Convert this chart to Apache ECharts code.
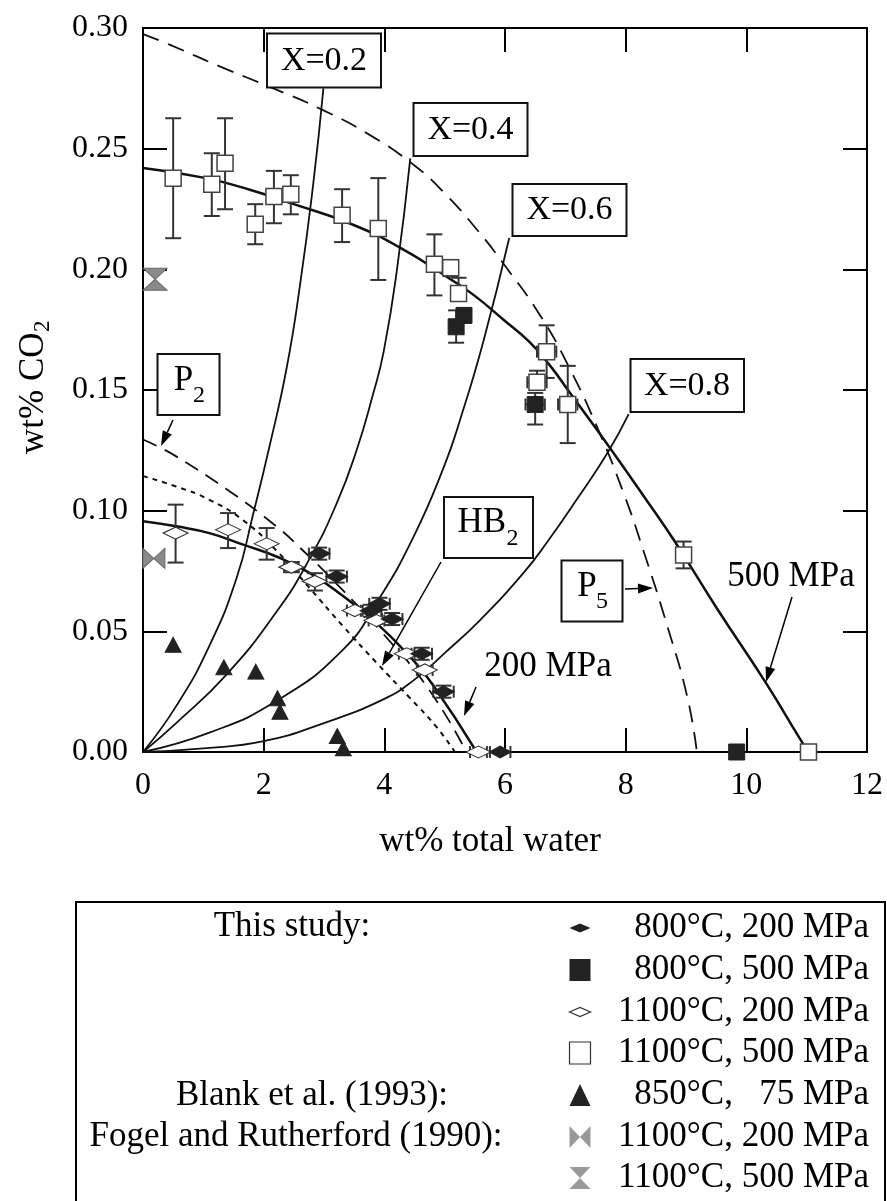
<!DOCTYPE html>
<html><head><meta charset="utf-8">
<script src="https://cdn.jsdelivr.net/npm/echarts@6/dist/echarts.min.js"></script>
<style>html,body{margin:0;padding:0;background:#fff}#c{width:887px;height:1201px}</style>
</head><body><div id="c"></div>
<script>
// ---------------- data ----------------
const xTickLabels = ['0','2','4','6','8','10','12'];
const yTickLabels = ['0.00','0.05','0.10','0.15','0.20','0.25','0.30'];

// model curves (x = wt% total water, y = wt% CO2)
const curve500MPa = [[0,0.242],[1,0.238],[1.77,0.233],[2.5,0.227],[3.43,0.219],[4.26,0.209],[5.09,0.196],[5.5,0.189],[5.98,0.179],[6.4,0.170],[6.75,0.160],[7.1,0.148],[7.74,0.126],[8.3,0.106],[8.82,0.087],[9.5,0.060],[10.34,0.028],[10.9,0.005],[11.03,0]];
const curve200MPa = [[0,0.0956],[0.55,0.0935],[1.1,0.0907],[1.66,0.0859],[2.21,0.081],[2.76,0.0742],[3.32,0.0645],[3.87,0.0534],[4.42,0.0396],[4.8,0.028],[5.53,0]];
const curveP5 = [[0,0.2975],[0.45,0.293],[1.28,0.284],[2.16,0.275],[2.94,0.2665],[3.77,0.2555],[4.5,0.243],[5.0,0.2315],[5.55,0.216],[5.97,0.2025],[6.58,0.181],[7.03,0.161],[7.52,0.135],[7.97,0.107],[8.3,0.083],[8.68,0.053],[9.02,0.023],[9.18,0]];
const curveP2 = [[0,0.1295],[0.28,0.1262],[0.55,0.1225],[1.38,0.109],[2.21,0.0935],[2.65,0.0835],[3.1,0.0725],[3.98,0.049],[4.75,0.0255],[5.36,0]];
const curveHB2 = [[0,0.1143],[0.55,0.110],[1.1,0.1045],[1.66,0.096],[2.21,0.0835],[2.76,0.068],[3.32,0.052],[3.87,0.037],[4.42,0.0225],[4.86,0.0105],[5.17,0]];
const isoX02 = [[0,0],[0.55,0.019],[1.1,0.044],[1.55,0.072],[1.82,0.098],[2.1,0.127],[2.38,0.159],[2.6,0.193],[2.82,0.235],[2.99,0.275]];
const isoX04 = [[0,0],[0.55,0.012],[1.38,0.032],[2.21,0.058],[2.76,0.080],[3.21,0.103],[3.54,0.125],[3.81,0.148],[3.99,0.166],[4.21,0.200],[4.43,0.246]];
const isoX06 = [[0,0],[1.1,0.008],[2.2,0.021],[3.3,0.042],[3.9,0.063],[4.5,0.090],[5.0,0.119],[5.26,0.138],[5.64,0.170],[6.07,0.213]];
const isoX08 = [[0,0],[1,0.0015],[2,0.0045],[3,0.012],[4,0.022],[4.5,0.030],[5,0.041],[5.6,0.055],[6.3,0.074],[6.7,0.087],[7.2,0.105],[7.7,0.124],[8.05,0.140]];

// measurements: [x, y, yLow, yHigh, xLow, xHigh]  (null = no error bar)
const open1100C500 = [
 [0.50,0.2377,0.2129,0.2626,null,null],
 [1.14,0.2353,0.2221,0.2481,null,null],
 [1.36,0.2440,0.2249,0.2626,null,null],
 [1.86,0.2187,0.2104,0.2270,null,null],
 [2.17,0.2302,0.2191,0.2408,null,null],
 [2.45,0.2311,0.2228,0.2390,null,null],
 [3.30,0.2224,0.2113,0.2332,null,null],
 [3.90,0.2169,0.1956,0.2378,null,null],
 [4.83,0.2021,0.1892,0.2145,null,null],
 [5.10,0.2007,0.1972,0.2039,null,null],
 [5.23,0.1900,0.1870,0.1965,null,null],
 [6.53,0.1532,0.1500,0.1580,6.37,6.69],
 [6.69,0.1659,0.1550,0.1768,6.53,6.85],
 [7.04,0.1440,0.1280,0.1600,6.88,7.20],
 [8.96,0.0816,0.0761,0.0872,null,null],
 [11.03,0,null,null,null,null]
];
const filled800C500 = [
 [5.32,0.1809,null,null,null,null],
 [5.19,0.1762,0.1696,0.1830,null,null],
 [6.50,0.1440,0.1357,0.1488,6.34,6.66],
 [9.84,0,null,null,null,null]
];
const filled800C200 = [
 [2.92,0.0822,0.0797,0.0847,2.75,3.09],
 [3.21,0.0727,0.0702,0.0752,3.04,3.38],
 [3.92,0.0614,0.0589,0.0639,3.75,4.09],
 [3.78,0.0585,0.0560,0.0610,3.61,3.95],
 [4.13,0.0551,0.0526,0.0576,3.96,4.30],
 [4.62,0.0407,0.0382,0.0432,4.45,4.79],
 [4.98,0.0250,0.0225,0.0275,4.81,5.15],
 [5.92,0,null,null,5.75,6.09]
];
const open1100C200 = [
 [0.54,0.0907,0.0785,0.1025,null,null],
 [1.41,0.0921,0.0845,0.0990,null,null],
 [2.05,0.0863,0.0797,0.0928,null,null],
 [2.46,0.0766,0.0745,0.0787,2.34,2.58],
 [2.85,0.0707,0.0669,0.0741,null,null],
 [3.51,0.0586,null,null,3.38,3.64],
 [3.87,0.0545,null,null,3.74,4.00],
 [4.37,0.0407,null,null,4.24,4.50],
 [4.67,0.0340,null,null,4.54,4.80],
 [5.56,0,null,null,5.42,5.70]
];
const blank850C75 = [[0.50,0.0444],[1.34,0.0351],[1.87,0.0333],[2.23,0.0223],[2.27,0.0167],[3.22,0.0066],[3.32,0.0015]];
const fogel1100C200 = [[0.18,0.0802]];
const fogel1100C500 = [[0.20,0.1959]];

const legendRows = ['800°C, 200 MPa','800°C, 500 MPa','1100°C, 200 MPa','1100°C, 500 MPa','850°C,   75 MPa','1100°C, 200 MPa','1100°C, 500 MPa'];

// ---------------- chart ----------------
const FONT = "'Liberation Serif','Times New Roman',serif";
const chart = echarts.init(document.getElementById('c'), null, {renderer:'canvas'});

const SYM_DIAMOND = 'path://M0,5 L10,0 L20,5 L10,10 Z';
const SYM_BOWTIE = 'path://M0,0 L10,5 L0,10 Z M20,0 L10,5 L20,10 Z';
const SYM_HOURGLASS = 'path://M0,0 L20,0 L10,10 Z M0,20 L20,20 L10,10 Z';

function lineSeries(data, width, type) {
  return {type:'line', data, showSymbol:false, smooth:0.5, silent:true, z:2,
    lineStyle:{color:'#111', width, type: type || 'solid'}};
}
function errSeries(arr, capV, capH) {
  return {type:'custom', silent:true, z:3, clip:false, data: arr.map(d=>[d[0],d[1]]),
    renderItem:(params, api)=>{
      const d = arr[params.dataIndex]; const ch = []; const st = {stroke:'#333', lineWidth:2};
      if (d[2] != null) {
        const a = api.coord([d[0],d[2]]), b = api.coord([d[0],d[3]]);
        ch.push({type:'line', shape:{x1:a[0],y1:a[1],x2:b[0],y2:b[1]}, style:st});
        ch.push({type:'line', shape:{x1:a[0]-capV/2,y1:a[1],x2:a[0]+capV/2,y2:a[1]}, style:st});
        ch.push({type:'line', shape:{x1:b[0]-capV/2,y1:b[1],x2:b[0]+capV/2,y2:b[1]}, style:st});
      }
      if (d[4] != null) {
        const a = api.coord([d[4],d[1]]), b = api.coord([d[5],d[1]]);
        ch.push({type:'line', shape:{x1:a[0],y1:a[1],x2:b[0],y2:b[1]}, style:st});
        ch.push({type:'line', shape:{x1:a[0],y1:a[1]-capH/2,x2:a[0],y2:a[1]+capH/2}, style:st});
        ch.push({type:'line', shape:{x1:b[0],y1:b[1]-capH/2,x2:b[0],y2:b[1]+capH/2}, style:st});
      }
      return {type:'group', children:ch};
    }};
}
function scatter(data, symbol, size, fill, stroke, bw) {
  return {type:'scatter', data: data.map(d=>[d[0],d[1]]), symbol, symbolSize:size, clip:false, silent:true, z:4,
    itemStyle:{color:fill, borderColor:stroke, borderWidth:bw, opacity:1}};
}

const axisCommon = {type:'value', splitLine:{show:false},
  axisLine:{show:true, onZero:false, lineStyle:{color:'#000', width:2}},
  axisTick:{show:true, inside:true, length:24, lineStyle:{color:'#000', width:2}}};

const option = {
  animation:false,
  backgroundColor:'#fff',
  grid:{left:143, top:28, width:724, height:724, containLabel:false},
  xAxis:[
    Object.assign({}, axisCommon, {min:0, max:12, interval:2, position:'bottom',
      axisLabel:{fontSize:32, color:'#000', fontFamily:FONT, margin:18,
        formatter:(v)=>xTickLabels[Math.round(v/2)]}}),
    Object.assign({}, axisCommon, {min:0, max:12, interval:2, position:'top', axisLabel:{show:false}})
  ],
  yAxis:[
    Object.assign({}, axisCommon, {min:0, max:0.30, interval:0.05, position:'left',
      axisLabel:{fontSize:32, color:'#000', fontFamily:FONT, margin:15,
        formatter:(v)=>yTickLabels[Math.round(v/0.05)]}}),
    Object.assign({}, axisCommon, {min:0, max:0.30, interval:0.05, position:'right', axisLabel:{show:false}})
  ],
  series:[
    lineSeries(isoX02, 1.8), lineSeries(isoX04, 1.8), lineSeries(isoX06, 1.8), lineSeries(isoX08, 1.8),
    lineSeries(curveP5, 1.8, [17,10]),
    lineSeries(curveP2, 1.8, [15,9]),
    lineSeries(curveHB2, 2, [5,5]),
    lineSeries(curve500MPa, 2.5),
    lineSeries(curve200MPa, 2.5),
    errSeries(open1100C500, 16, 12),
    errSeries(filled800C500, 16, 12),
    errSeries(open1100C200, 16, 12),
    errSeries(filled800C200, 16, 12),
    scatter(open1100C500, 'rect', 16, '#fff', '#444', 1.5),
    scatter(filled800C500, 'rect', 16, '#222', '#222', 1),
    scatter(open1100C200, SYM_DIAMOND, [25,12], '#fff', '#333', 1.2),
    scatter(filled800C200, SYM_DIAMOND, [22,12], '#222', '#222', 1),
    scatter(blank850C75, 'triangle', [16,15], '#222', '#222', 1),
    scatter(fogel1100C200, SYM_BOWTIE, [22,20], '#8a8a8a', '#666', 1),
    scatter(fogel1100C500, SYM_HOURGLASS, [24,22], '#8a8a8a', '#666', 1)
  ]
};
chart.setOption(option);

// ---------------- annotations & legend (layout) ----------------
const G = [];
function txt(x, y, s, size, align) {
  return {type:'text', z:20, x, y, style:{text:s, fill:'#000', font:`${size}px ${FONT}`,
    textAlign:align||'center', textVerticalAlign:'middle'}};
}
function box(x, y, w, h) {
  return {type:'rect', z:19, shape:{x, y, width:w, height:h}, style:{fill:'#fff', stroke:'#111', lineWidth:2}};
}
function arrow(x1, y1, x2, y2, len, w) {
  len = len || 15; w = w || 5;
  const a = Math.atan2(y2-y1, x2-x1);
  const bx = x2 - len*Math.cos(a), by = y2 - len*Math.sin(a);
  const px = -Math.sin(a)*w, py = Math.cos(a)*w;
  return [
    {type:'line', z:20, shape:{x1, y1, x2:bx, y2:by}, style:{stroke:'#000', lineWidth:1.5}},
    {type:'polygon', z:20, shape:{points:[[x2,y2],[bx+px,by+py],[bx-px,by-py]]}, style:{fill:'#000'}}
  ];
}
// X boxes
G.push(box(267,33.5,114,54), txt(324,61,'X=0.2',34));
G.push(box(413.5,103,114,53), txt(470.5,130,'X=0.4',34));
G.push(box(512.5,184,114,52), txt(569.5,210.5,'X=0.6',34));
G.push(box(630.5,359,113.5,53), txt(687,386,'X=0.8',34));
// P2
G.push(box(157.5,354,62,61), txt(183.5,380.5,'P',35), txt(199,396,'2',24));
G.push(...arrow(173,420,161,446));
// HB2
G.push(box(444,497,89,61), txt(481.7,523.3,'HB',35), txt(512.5,538.5,'2',24));
G.push(...arrow(441,562,382,666));
// P5
G.push(box(561.5,560.5,61,61), txt(587,587,'P',35), txt(602,602,'5',24));
G.push(...arrow(625,589,653,588));
// pressure labels
G.push(txt(548,667,'200 MPa',35));
G.push(...arrow(476,687,464,716));
G.push(txt(791,577,'500 MPa',35));
G.push(...arrow(792,597,766,682));
// axis titles
G.push(txt(490,842,'wt% total water',35));
G.push({type:'group', x:34, y:388, rotation:Math.PI/2, z:20, children:[
  {type:'text', x:-66, y:0, style:{text:'wt% CO', fill:'#000', font:`35px ${FONT}`, textAlign:'left', textVerticalAlign:'middle'}},
  {type:'text', x:56, y:9, style:{text:'2', fill:'#000', font:`23px ${FONT}`, textAlign:'left', textVerticalAlign:'middle'}}
]});
// legend
G.push({type:'rect', z:19, shape:{x:76,y:902,width:809,height:320}, style:{fill:'none', stroke:'#000', lineWidth:2}});
const rowY = [928,970,1012,1053,1095,1137,1178];
G.push(txt(292,927,'This study:',35));
G.push(txt(312,1096,'Blank et al. (1993):',35));
G.push(txt(296,1137,'Fogel and Rutherford (1990):',35));
legendRows.forEach((s,i)=>G.push(txt(869,rowY[i],s,35,'right')));
const sx = 580;
G.push({type:'polygon', z:20, shape:{points:[[sx-10.5,rowY[0]],[sx,rowY[0]-4.5],[sx+10.5,rowY[0]],[sx,rowY[0]+4.5]]}, style:{fill:'#222'}});
G.push({type:'rect', z:20, shape:{x:sx-10.5,y:rowY[1]-11,width:21,height:22}, style:{fill:'#222'}});
G.push({type:'polygon', z:20, shape:{points:[[sx-10.5,rowY[2]],[sx,rowY[2]-4.5],[sx+10.5,rowY[2]],[sx,rowY[2]+4.5]]}, style:{fill:'#fff', stroke:'#333', lineWidth:1.2}});
G.push({type:'rect', z:20, shape:{x:sx-10.5,y:rowY[3]-11,width:21,height:22}, style:{fill:'#fff', stroke:'#333', lineWidth:1.2}});
G.push({type:'polygon', z:20, shape:{points:[[sx-10.5,rowY[4]+11],[sx,rowY[4]-11],[sx+10.5,rowY[4]+11]]}, style:{fill:'#222'}});
G.push({type:'polygon', z:20, shape:{points:[[sx-10.5,rowY[5]-11],[sx,rowY[5]],[sx-10.5,rowY[5]+11]]}, style:{fill:'#999'}});
G.push({type:'polygon', z:20, shape:{points:[[sx+10.5,rowY[5]-11],[sx,rowY[5]],[sx+10.5,rowY[5]+11]]}, style:{fill:'#999'}});
G.push({type:'polygon', z:20, shape:{points:[[sx-10.5,rowY[6]-11],[sx+10.5,rowY[6]-11],[sx,rowY[6]]]}, style:{fill:'#999'}});
G.push({type:'polygon', z:20, shape:{points:[[sx-10.5,rowY[6]+11],[sx+10.5,rowY[6]+11],[sx,rowY[6]]]}, style:{fill:'#999'}});

chart.setOption({graphic:{elements:G}});
</script>
</body></html>
